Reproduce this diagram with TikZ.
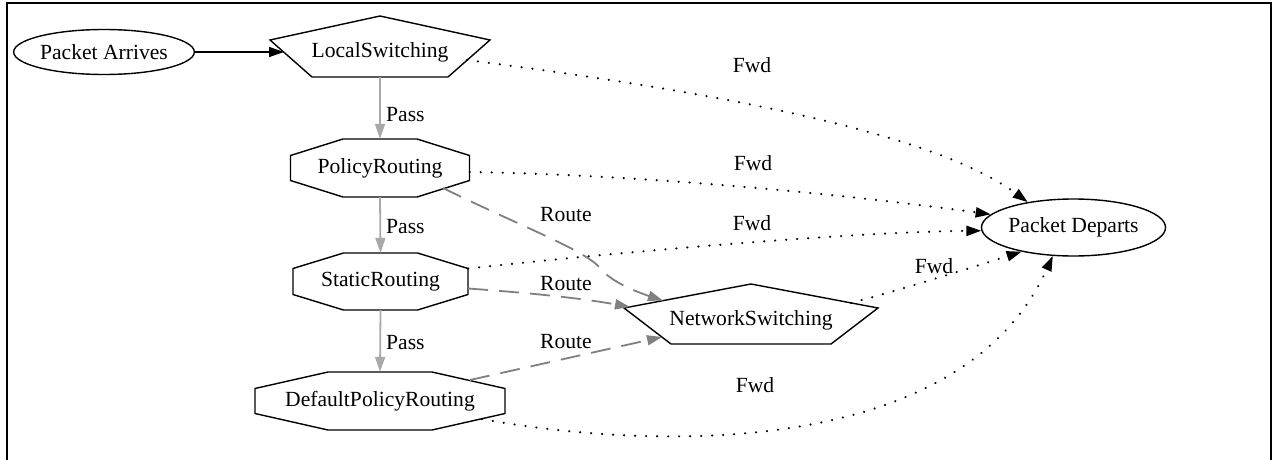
\documentclass[tikz,border=0pt]{standalone}
\usepackage{fontspec}
\setmainfont{Liberation Serif}
\usetikzlibrary{shapes.geometric,arrows.meta,calc}

\definecolor{passgray}{HTML}{A9A9A9}
\definecolor{routegray}{HTML}{808080}

% octagon around a node: name, half width, half height, half top edge, half side
\newcommand\octoutline[5]{%
  \draw[shapeline] ($(#1)+(-#4,-#3)$) -- ($(#1)+(#4,-#3)$) -- ($(#1)+(#2,-#5)$)
    -- ($(#1)+(#2,#5)$) -- ($(#1)+(#4,#3)$) -- ($(#1)+(-#4,#3)$)
    -- ($(#1)+(-#2,#5)$) -- ($(#1)+(-#2,-#5)$) -- cycle;}
% pentagon around a node: name, half width, top, shoulder, half base, base
\newcommand\pentoutline[6]{%
  \draw[shapeline] ($(#1)+(0,-#3)$) -- ($(#1)+(#2,-#4)$) -- ($(#1)+(#5,#6)$)
    -- ($(#1)+(-#5,#6)$) -- ($(#1)+(-#2,-#4)$) -- cycle;}

\begin{document}
\begin{tikzpicture}[x=1pt,y=-1pt,
  every node/.style={font=\fontsize{21.6}{24}\selectfont, inner sep=0pt},
  shapeline/.style={line width=1.4pt, line join=miter},
  oval/.style={ellipse, draw, line width=1.4pt},
  octnode/.style={rectangle},
  tip/.style={-{Triangle[length=15pt,width=10pt]}},
  solidedge/.style={tip, line width=1.4pt, black},
  passedge/.style={tip, line width=1.8pt, passgray},
  routeedge/.style={tip, line width=1.8pt, routegray, dash pattern=on 20pt off 11pt},
  fwdedge/.style={tip, line width=2.4pt, black, line cap=round, dash pattern=on 0.01pt off 11pt},
  lbl/.style={}]

\useasboundingbox (0,0) rectangle (1274,460);

% frame
\coordinate (fbl) at (6.7,460);
\coordinate (ftl) at (6.7,2.7);
\coordinate (ftr) at (1271,2.7);
\coordinate (fbr) at (1271,460);
\draw[line width=2pt] (fbl) -- (ftl) -- (ftr) -- (fbr);

% nodes
\node[oval, minimum width=178pt, minimum height=45pt] (pa) at (104,52) {Packet Arrives};
\node (ls) at (380,52) {LocalSwitching};
\pentoutline{ls}{110}{36}{12}{68}{25}
\node[octnode, minimum width=179pt, minimum height=58pt] (pr) at (380,168) {PolicyRouting};
\octoutline{pr}{89.5}{29}{37}{12.5}
\node[octnode, minimum width=175pt, minimum height=57pt] (sr) at (380.5,281.5) {StaticRouting};
\octoutline{sr}{87.5}{28.5}{37}{13}
\node[octnode, minimum width=250pt, minimum height=58pt] (dpr) at (380,401) {DefaultPolicyRouting};
\octoutline{dpr}{125}{29}{52}{12.5}
\node (ns) at (751,320) {NetworkSwitching};
\pentoutline{ns}{127}{36}{12}{80}{24}
\node[oval, minimum width=177pt, minimum height=57pt] (pd) at (1073.5,227.5) {Packet Departs};

% entry
\draw[solidedge] (pa.east) -- ($(ls)+(-96,0)$);

% pass chain
\draw[passedge] ($(ls)+(0,25)$) -- (pr.north);
\draw[passedge] (pr.south) -- (sr.north);
\draw[passedge] (sr.south) -- (dpr.north);
\node[lbl, anchor=west] (p1) at (386,115) {Pass};
\node[lbl, anchor=west] (p2) at (386,227) {Pass};
\node[lbl, anchor=west] (p3) at (386,343) {Pass};

% routes to network switching
\draw[routeedge] ($(pr)+(63,20)$) .. controls (520,226) and (585,250) .. (600,268)
  .. controls (612,283) and (640,293) .. ($(ns)+(-88,-19.4)$);
\draw[routeedge] ($(sr.east)+(0,7)$) .. controls (530,293) and (580,298) .. ($(ns)+(-121,-13)$);
\draw[routeedge] ($(dpr)+(90,-21)$) -- ($(ns)+(-89,17)$);
\node[lbl] (r1) at (566,215) {Route};
\node[lbl] (r2) at (566,284) {Route};
\node[lbl] (r3) at (566,342) {Route};

% forwarding to departure
\draw[fwdedge] ($(ls)+(87,8)$) .. controls (700,90) and (930,130) .. (pd.151);
\draw[fwdedge] ($(pr.east)+(0,4)$) .. controls (650,175) and (850,195) .. (pd.171);
\draw[fwdedge] ($(sr.east)+(0,-13)$) .. controls (620,252) and (850,232) .. (pd.182);
\draw[fwdedge] ($(ns)+(100,-17)$) .. controls (900,290) and (970,268) .. (pd.205);
\draw[fwdedge] ($(dpr)+(102,18)$) .. controls (650,450) and (960,460) .. (pd.234);
\node[lbl] (f1) at (752,65) {Fwd};
\node[lbl] (f2) at (753,163) {Fwd};
\node[lbl] (f3) at (752,223) {Fwd};
\node[lbl] (f4) at (934,266) {Fwd};
\node[lbl] (f5) at (755,385) {Fwd};
\end{tikzpicture}
\end{document}
